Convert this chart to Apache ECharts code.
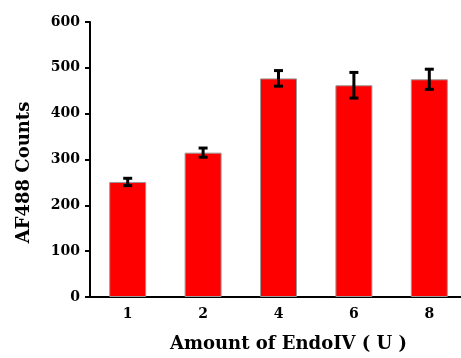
<!DOCTYPE html>
<html>
<head>
<meta charset="utf-8">
<script src="https://cdn.jsdelivr.net/npm/echarts@6/dist/echarts.min.js"></script>
<style>html,body{margin:0;padding:0;background:#fff;}#c{width:461px;height:358px;}</style>
</head>
<body>
<div id="c"></div>
<script>
var categories = ['1', '2', '4', '6', '8'];
var means = [251, 315, 477, 462, 475];
var errors = [8, 10, 17, 28, 22];
var yTicks = [0, 100, 200, 300, 400, 500, 600];

var errData = means.map(function (m, i) { return [i, m - errors[i], m + errors[i]]; });
var FONT = 'DejaVu Serif';

var chart = echarts.init(document.getElementById('c'));
chart.setOption({
  animation: false,
  backgroundColor: '#fff',
  grid: { left: 90, width: 377, top: 22, bottom: 61, containLabel: false, outerBoundsMode: 'none' },
  xAxis: {
    type: 'category',
    data: categories,
    name: 'Amount of EndoIV ( U )',
    nameLocation: 'middle',
    nameGap: 38,
    nameTextStyle: { fontFamily: FONT, fontWeight: 'bold', fontSize: 18, color: '#000', padding: [0, 0, 0, 20] },
    axisLine: { lineStyle: { color: '#000', width: 2 } },
    axisTick: { alignWithLabel: true, length: 5, lineStyle: { color: '#000', width: 2 } },
    axisLabel: { fontFamily: FONT, fontWeight: 'bold', fontSize: 14, color: '#000', margin: 10 },
    splitLine: { show: false }
  },
  yAxis: {
    type: 'value',
    min: yTicks[0],
    max: yTicks[yTicks.length - 1],
    interval: 100,
    name: 'AF488 Counts',
    nameLocation: 'middle',
    nameGap: 57,
    nameTextStyle: { fontFamily: FONT, fontWeight: 'bold', fontSize: 18, color: '#000', padding: [0, 26, 0, 0] },
    axisLine: { show: true, lineStyle: { color: '#000', width: 2 } },
    axisTick: { show: true, length: 5, lineStyle: { color: '#000', width: 2 } },
    axisLabel: { fontFamily: FONT, fontWeight: 'bold', fontSize: 14, color: '#000', margin: 10 },
    splitLine: { show: false }
  },
  series: [
    {
      type: 'bar',
      data: means,
      barWidth: 37,
      itemStyle: { color: '#ff0000', borderColor: '#9a9a9a', borderWidth: 1 }
    },
    {
      type: 'custom',
      data: errData,
      z: 10,
      renderItem: function (params, api) {
        var x = api.value(0);
        var lo = api.coord([x, api.value(1)]);
        var hi = api.coord([x, api.value(2)]);
        var hw = 4.5;
        var st = { stroke: '#000', lineWidth: 3 };
        return {
          type: 'group',
          children: [
            { type: 'line', shape: { x1: lo[0], y1: lo[1], x2: hi[0], y2: hi[1] }, style: st },
            { type: 'line', shape: { x1: lo[0] - hw, y1: lo[1], x2: lo[0] + hw, y2: lo[1] }, style: st },
            { type: 'line', shape: { x1: hi[0] - hw, y1: hi[1], x2: hi[0] + hw, y2: hi[1] }, style: st }
          ]
        };
      }
    }
  ]
});
</script>
</body>
</html>
